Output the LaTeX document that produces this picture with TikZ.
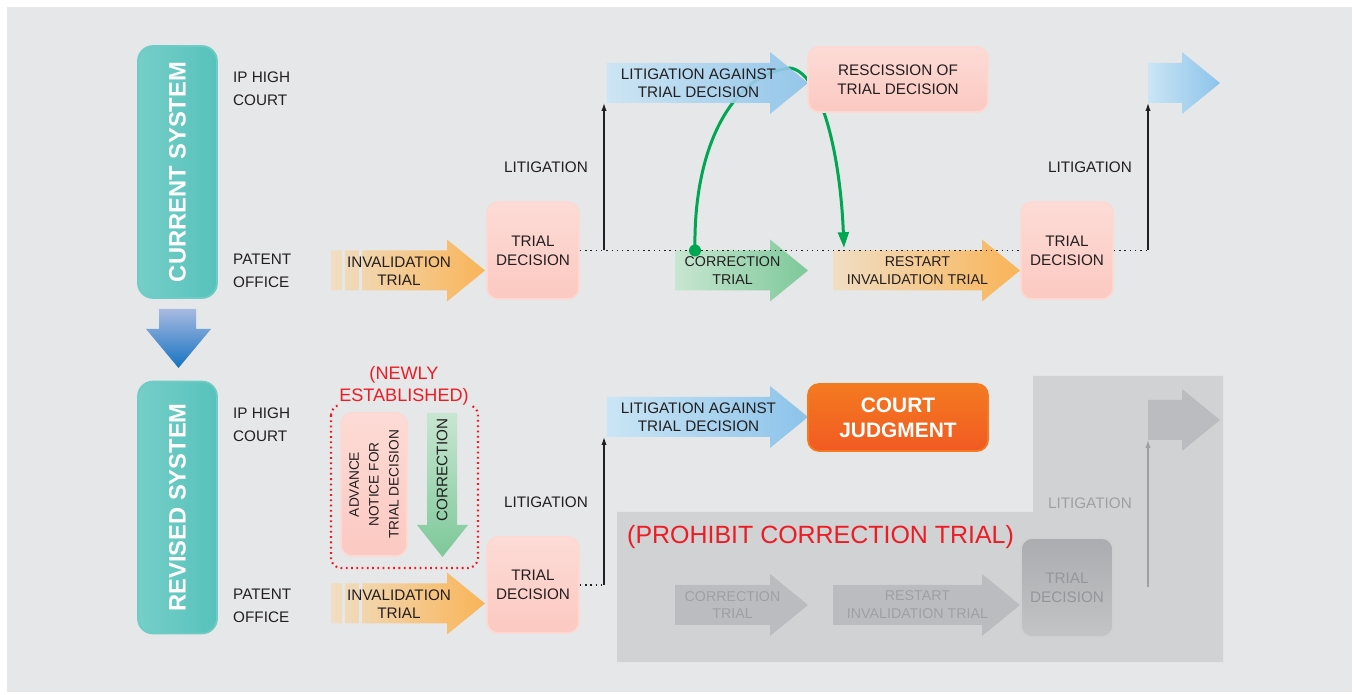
\documentclass[tikz,border=0pt]{standalone}
\usepackage{graphicx}
\usepackage{fontspec}
\setmainfont{Liberation Sans}
\usepackage{xcolor}
\definecolor{paper}{HTML}{E6E7E8}
\definecolor{panel}{HTML}{D1D2D4}
\definecolor{ink}{HTML}{231F20}
\definecolor{alarm}{HTML}{ED1C24}
\definecolor{fixgreen}{HTML}{00A651}
\definecolor{tealL}{HTML}{76CEC8}
\definecolor{tealD}{HTML}{56C2BB}
\definecolor{tealB}{HTML}{6ECBC5}
\definecolor{pinkL}{HTML}{FDDBD6}
\definecolor{pinkD}{HTML}{FBC9C1}
\definecolor{pinkB}{HTML}{FCD9D3}
\definecolor{orL}{HTML}{F0DEC4}
\definecolor{orD}{HTML}{F9B458}
\definecolor{blL}{HTML}{CAE5F5}
\definecolor{blD}{HTML}{8CC3EA}
\definecolor{grL}{HTML}{C8E6D1}
\definecolor{grD}{HTML}{7DC899}
\definecolor{greyA}{HTML}{BBBCBF}
\definecolor{greyT}{HTML}{9FA0A3}
\definecolor{greyBoxL}{HTML}{ABACAF}
\definecolor{greyBoxD}{HTML}{C3C4C6}
\definecolor{greyBoxT}{HTML}{95969A}
\definecolor{courtL}{HTML}{F47A21}
\definecolor{courtD}{HTML}{F15A22}
\definecolor{downL}{HTML}{A7BAE1}
\definecolor{downD}{HTML}{1572C0}
\usepackage{tikz}
\usetikzlibrary{arrows.meta, positioning}

% block arrow: [style]{name}{x start}{x tip}{y centre}{text}
\newcommand{\fatarrow}[6][]{%
  \path[#1] (#3,#5-20) -- (#4-38,#5-20) -- (#4-38,#5-31) -- (#4,#5)
    -- (#4-38,#5+31) -- (#4-38,#5+20) -- (#3,#5+20) -- cycle;
  \coordinate (#2-sw) at (#3,#5+20);
  \coordinate (#2-tip) at (#4,#5);
  \node[arrtext] (#2) at ({(#3+#4)/2-9},#5) {#6};
}

\begin{document}
\begin{tikzpicture}[
	x=0.02cm, y=-0.02cm,
	sidelbl/.style={anchor=west, align=left, text=ink, font=\fontsize{8.7}{13}\selectfont},
	littxt/.style={anchor=east, text=ink, font=\fontsize{8.7}{10}\selectfont},
	arrtext/.style={align=center, text=ink, font=\fontsize{8.7}{10.2}\selectfont},
	smalltext/.style={arrtext/.append style={font=\fontsize{8.1}{10.2}\selectfont}},
	sysbox/.style={rounded corners=0.3cm, draw=tealB, line width=1pt, left color=tealL, right color=tealD, minimum width=1.58cm, minimum height=5.04cm, inner sep=0pt, text=white, font=\fontsize{13.5}{16}\selectfont\bfseries},
	decbox/.style={rounded corners=0.22cm, draw=pinkB, line width=1pt, top color=pinkL, bottom color=pinkD, align=center, inner sep=0pt, text=ink, font=\fontsize{8.7}{11}\selectfont},
	courtbox/.style={decbox, draw=courtL, top color=courtL, bottom color=courtD, text=white, font=\fontsize{11.9}{14.2}\selectfont\bfseries},
	orangearr/.style={left color=orL, right color=orD},
	bluearr/.style={left color=blL, right color=blD},
	greenarr/.style={left color=grL, right color=grD},
	greyarr/.style={fill=greyA},
	dotline/.style={draw=ink, line width=0.8pt, dash pattern=on 0.8pt off 2.2pt},
	litarr/.style={-{Latex[length=4.5pt,width=3pt]}, draw=ink, line width=0.7pt},
	fixcurve/.style={-{Triangle[length=9pt,width=6pt]}, draw=fixgreen, line width=1.7pt},
	redtxt/.style={text=alarm, align=center}
	]
	\useasboundingbox (0,0) rectangle (1356,695);
	\fill[white] (0,0) rectangle (1356,695);
	\fill[paper] (7,7) rectangle (1352,692);

	% systems
	\node[sysbox] (cur) at (177.5,172) {\rotatebox{90}{CURRENT SYSTEM}};
	\node[sysbox] (rev) at (177.5,507.5) {\rotatebox{90}{REVISED SYSTEM}};
	\path[top color=downL, bottom color=downD] (159,309) -- (196,309) -- (196,329) -- (211,329)
		-- (178.5,368) -- (146,329) -- (159,329) -- cycle;

	\node[sidelbl] (ipc1) at (227,88.5) {IP HIGH\\COURT};
	\node[sidelbl] (pto1) at (227,270.5) {PATENT\\OFFICE};
	\node[sidelbl] (ipc2) at (227,424.5) {IP HIGH\\COURT};
	\node[sidelbl] (pto2) at (227,605.5) {PATENT\\OFFICE};

	% current system
	\coordinate (cdot) at (695,250.5);
	\coordinate (gpeak) at (790,68);
	\coordinate (rtop) at (844,248);
	\draw[fixcurve] (cdot) .. controls +(-2,-100) and +(-60,7) .. (gpeak)
		.. controls +(30,4) and +(-4,-98) .. (rtop);

	\fatarrow[orangearr]{inv1}{331}{485}{270.5}{}
	\fill[paper] (342,250) rectangle (345,291);
	\fill[paper] (358.5,250) rectangle (362,291);
	\node[arrtext] (inv1txt) at (399,271) {INVALIDATION\\TRIAL};
	\begin{scope}[smalltext]
		\fatarrow[greenarr]{cor1}{675}{808}{270.5}{CORRECTION\\TRIAL}
		\fatarrow[orangearr]{rst1}{833}{1020}{270.5}{RESTART\\INVALIDATION TRIAL}
	\end{scope}
	\fatarrow[bluearr, fill opacity=0.9]{lag1}{607}{808}{83}{LITIGATION AGAINST\\TRIAL DECISION}
	\fatarrow[bluearr]{out1}{1148}{1220}{83}{}

	\node[decbox, minimum width=1.84cm, minimum height=1.94cm] (td1) at (533,250.5) {TRIAL\\DECISION};
	\node[decbox, minimum width=1.84cm, minimum height=1.94cm] (td2) at (1067,250.5) {TRIAL\\DECISION};
	\node[decbox, minimum width=3.6cm, minimum height=1.3cm] (resc) at (898,79.5) {RESCISSION OF\\TRIAL DECISION};

	\coordinate (lit1) at (604,250.5);
	\coordinate (lit2) at (1148,250.5);
	\draw[dotline] (td1) -- (td2);
	\draw[dotline] (td2) -- (lit2);
	\fill[fixgreen] (cdot) circle[radius=0.12cm];
	\draw[litarr] (lit1) -- (lit1 |- lag1-sw);
	\draw[litarr] (lit2) -- (out1-sw);
	\node[littxt] (lt1) at (594,167) {LITIGATION};
	\node[littxt] (lt2) at (1138,167) {LITIGATION};

	% revised system
	\fill[panel] (617,512) -- (1033,512) -- (1033,376) -- (1223,376) -- (1223,662) -- (617,662) -- cycle;

	\draw[alarm, line width=1.2pt, dash pattern=on 1pt off 2pt, rounded corners=0.2cm] (331,405) rectangle (478,568);
	\node[redtxt, fill=paper, inner sep=1pt, font=\fontsize{10.3}{12.5}\selectfont] (newlbl) at (404,386) {(NEWLY\\ESTABLISHED)};
	\node[decbox, rotate=90, minimum width=2.86cm, minimum height=1.32cm, font=\fontsize{7.8}{11.3}\selectfont] (adv) at (374,484.5) {ADVANCE\\NOTICE FOR\\TRIAL DECISION};
	\path[top color=grL, bottom color=grD] (427,413) -- (457,413) -- (457,525) -- (468,525)
		-- (442.5,557) -- (417,525) -- (427,525) -- cycle;
	\node[arrtext, rotate=90] (cordn) at (442,470) {CORRECTION};

	\fatarrow[orangearr]{inv2}{331}{485}{603.5}{}
	\fill[paper] (342,583) rectangle (345,624);
	\fill[paper] (358.5,583) rectangle (362,624);
	\node[arrtext] (inv2txt) at (399,604) {INVALIDATION\\TRIAL};
	\fatarrow[bluearr]{lag2}{607}{808}{417}{LITIGATION AGAINST\\TRIAL DECISION}
	\node[decbox, minimum width=1.84cm, minimum height=1.92cm] (td3) at (533,585) {TRIAL\\DECISION};
	\node[courtbox, minimum width=3.6cm, minimum height=1.34cm] (court) at (898,417.5) {COURT\\JUDGMENT};

	\coordinate (lit3) at (604,585);
	\draw[dotline] (td3) -- (lit3);
	\draw[litarr] (lit3) -- (lit3 |- lag2-sw);
	\node[littxt] (lt3) at (594,502) {LITIGATION};

	% prohibited route
	\node[redtxt, anchor=west, font=\fontsize{14.2}{16}\selectfont] (prohib) at (621,537) {(PROHIBIT CORRECTION TRIAL)};
	\begin{scope}[smalltext, arrtext/.append style={text=greyT}]
		\fatarrow[greyarr]{cor2}{675}{808}{605}{CORRECTION\\TRIAL}
		\fatarrow[greyarr]{rst2}{833}{1020}{605}{RESTART\\INVALIDATION TRIAL}
		\fatarrow[greyarr]{out2}{1148}{1220}{420}{}
	\end{scope}
	\node[decbox, draw=greyBoxD!80!white, top color=greyBoxL, bottom color=greyBoxD, text=greyBoxT, minimum width=1.84cm, minimum height=1.98cm] (td4) at (1067,587.5) {TRIAL\\DECISION};
	\coordinate (lit4) at (1148,587);
	\draw[litarr, draw=greyT] (lit4) -- (out2-sw);
	\node[littxt, text=greyT] (lt4) at (1138,503) {LITIGATION};
\end{tikzpicture}
\end{document}
